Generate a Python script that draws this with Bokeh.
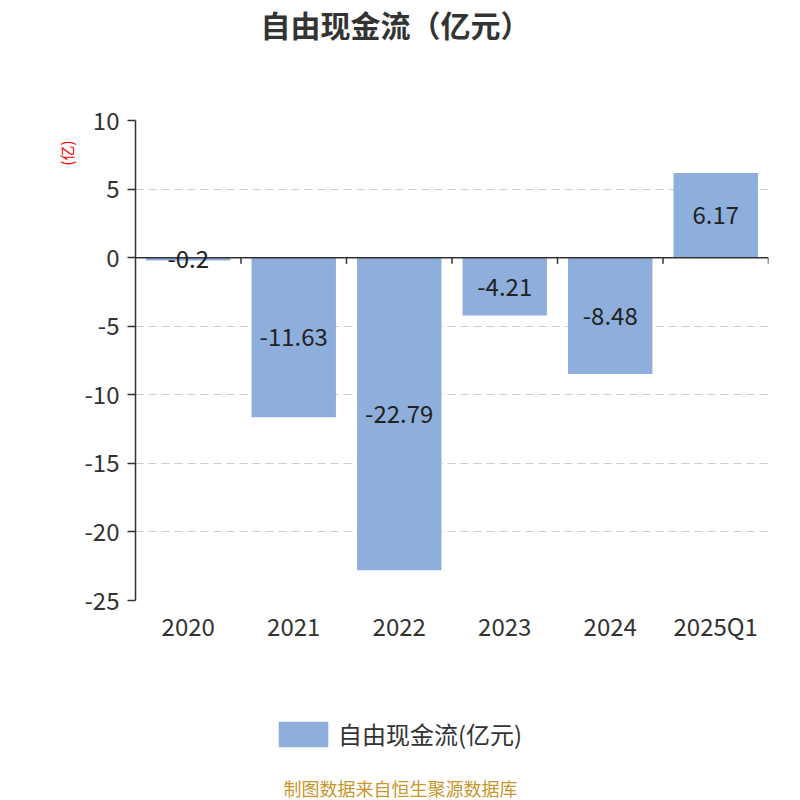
from bokeh.plotting import figure
from bokeh.layouts import column
from bokeh.models import (ColumnDataSource, FactorRange, Range1d, FixedTicker, Span,
                          LabelSet, Label, Legend, LegendItem, Title, PrintfTickFormatter)
from bokeh.core.properties import value
from bokeh.embed import file_html
from bokeh.resources import INLINE

categories = ["2020", "2021", "2022", "2023", "2024", "2025Q1"]
fcf = [-0.2, -11.63, -22.79, -4.21, -8.48, 6.17]
y_ticks = [-25, -20, -15, -10, -5, 0, 5, 10]
title_text = "自由现金流（亿元）"
series_name = "自由现金流(亿元)"
unit_text = "(亿)"
source_text = "制图数据来自恒生聚源数据库"

FONT = "Noto Sans CJK SC"
BAR = "#8eaedb"
W = 800
LEFT = 135   # frame left edge, shared by all stacked figures


def blank(height):
    f = figure(width=W, height=height, output_backend="svg", toolbar_location=None,
               x_range=Range1d(0, W), y_range=Range1d(0, height),
               x_axis_location=None, y_axis_location=None, min_border=0)
    f.min_border_left = f.min_border_right = f.min_border_top = f.min_border_bottom = 0
    f.outline_line_color = None
    f.grid.grid_line_color = None
    return f


# ---- title strip
top = blank(60)
top.add_layout(Label(x=395 - LEFT, y=37, x_units="screen", y_units="screen", text=title_text,
                     text_align="center", text_baseline="middle", text_font=FONT,
                     text_font_size="30px", text_font_style="bold", text_color="#333333"))

# ---- main chart
src = ColumnDataSource(dict(
    cat=categories, v=fcf, mid=[x / 2 for x in fcf], lab=[str(x) for x in fcf]))

p = figure(width=W, height=600, output_backend="svg", toolbar_location=None,
           x_range=FactorRange(*categories, range_padding=0),
           y_range=Range1d(-25, 10),
           min_border_left=LEFT, min_border_right=32, min_border_top=60,
           min_border_bottom=60)
p.outline_line_color = None

r = p.vbar(x="cat", top="v", bottom=0, width=0.8, source=src, fill_color=BAR,
           line_color=None)

p.add_layout(Span(location=0, dimension="width", line_color="#333333", line_width=1.5))
bx = list(range(1, len(categories) + 1))
p.segment(x0=bx, x1=bx, y0=[0] * len(bx), y1=[-0.45] * len(bx),
          line_color="#333333", line_width=1.5)

p.add_layout(LabelSet(x="cat", y="mid", text="lab", source=src, text_align="center",
                      text_baseline="middle", text_font=value(FONT),
                      text_font_size="24px", text_color="#222222"))

ya = p.yaxis[0]
ya.ticker = FixedTicker(ticks=y_ticks)
ya.formatter = PrintfTickFormatter(format="%d")
ya.axis_line_color = "#333333"
ya.axis_line_width = 1.5
ya.major_tick_line_color = "#333333"
ya.major_tick_line_width = 1.5
ya.major_tick_out = 8
ya.major_tick_in = 0
ya.minor_tick_line_color = None
ya.major_label_text_font = FONT
ya.major_label_text_font_size = "24px"
ya.major_label_text_color = "#333333"
ya.major_label_standoff = 8

xa = p.xaxis[0]
xa.axis_line_color = None
xa.major_tick_line_color = None
xa.minor_tick_line_color = None
xa.major_label_text_font = FONT
xa.major_label_text_font_size = "24px"
xa.major_label_text_color = "#333333"
xa.major_label_standoff = 1

p.xgrid.grid_line_color = None
p.ygrid.grid_line_color = "#cccccc"
p.ygrid.grid_line_dash = "8 5"
p.ygrid.grid_line_width = 1.2

p.add_layout(Title(text=unit_text, align="right", offset=20, standoff=10,
                   text_font=FONT, text_font_size="15px", text_font_style="normal",
                   text_color="#ff0000"), "left")

# ---- legend + source strip
bot = blank(140)
# zero-size proxy glyph that only supplies the legend swatch style
proxy = bot.vbar(x=[0], top=[0], bottom=[0], width=0, fill_color=BAR, line_color=None)
legend = Legend(items=[LegendItem(label=series_name, renderers=[proxy])],
                location=(272 - LEFT, 49), orientation="horizontal", margin=0,
                glyph_width=62, glyph_height=32, label_text_font=FONT,
                label_text_font_size="24px", label_text_color="#333333",
                border_line_color=None, background_fill_alpha=0, padding=0,
                label_standoff=4)
bot.add_layout(legend, "center")
bot.add_layout(Label(x=400 - LEFT, y=13, x_units="screen", y_units="screen", text=source_text,
                     text_align="center", text_baseline="middle", text_font=FONT,
                     text_font_size="18px", text_color="#c8962e"))

page = column(top, p, bot, spacing=0)
open("out.html", "w").write(file_html(page, INLINE))
